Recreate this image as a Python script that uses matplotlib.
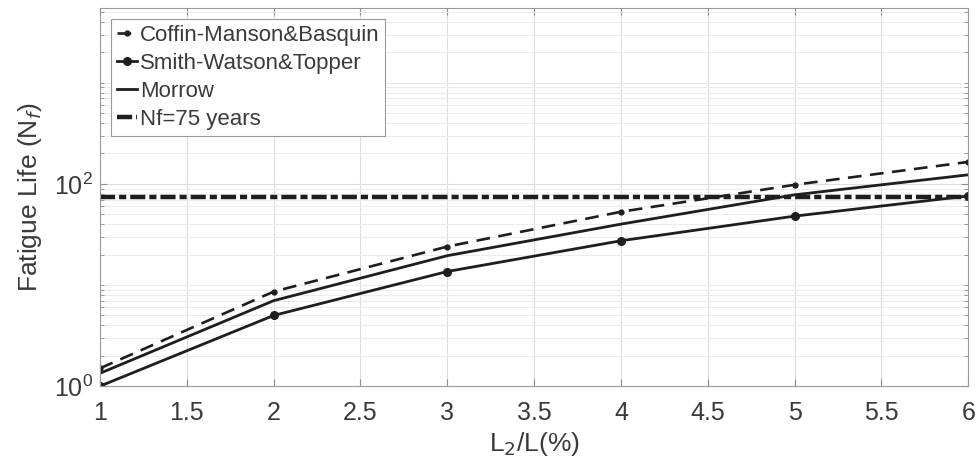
import numpy as np
import matplotlib.pyplot as plt
from matplotlib.ticker import LogLocator, NullFormatter

# data
ratio = [1, 2, 3, 4, 5, 6]                       # L2/L (%)
coffin_manson = [1.5, 8.6, 24, 53, 98, 165]
smith_watson = [1.0, 5.0, 13.6, 27.4, 48, 76]
morrow = [1.34, 7.0, 19.5, 40, 78, 123]
nf_limit = 75
xticks = [1, 1.5, 2, 2.5, 3, 3.5, 4, 4.5, 5, 5.5, 6]

plt.rcParams['font.family'] = ['Liberation Sans', 'DejaVu Sans']
text_color = '#3a3a3a'
line_color = '#1e1e1e'

fig = plt.figure(figsize=(9.76, 4.68), dpi=100)
ax = fig.add_axes([0.1025, 0.175, 0.8895, 0.808])

ax.plot(ratio, coffin_manson, color=line_color, lw=1.9, dashes=(5.2, 3.2),
        marker='o', ms=3.5, label='Coffin-Manson&Basquin')
ax.plot(ratio, smith_watson, color=line_color, lw=2.0,
        marker='o', ms=5.5, label='Smith-Watson&Topper')
ax.plot(ratio, morrow, color=line_color, lw=2.0, label='Morrow')
ax.axhline(nf_limit, color=line_color, lw=3.2, dashes=(3.4, 0.9, 1.6, 0.9),
           label='Nf=75 years')

ax.set_yscale('log')
ax.set_xlim(1, 6)
ax.set_ylim(1, 5500)
ax.set_xticks(xticks)
ax.set_xticklabels([f'{t:g}' for t in xticks])
ax.yaxis.set_major_locator(LogLocator(base=100))
ax.yaxis.set_minor_locator(LogLocator(base=10, subs=np.arange(1, 10)))
ax.yaxis.set_minor_formatter(NullFormatter())

# MATLAB-like grid and ticks
ax.grid(True, which='major', color='#dcdcdc', lw=0.8)
ax.grid(True, which='minor', axis='y', color='#ececec', lw=0.7)
ax.tick_params(which='both', direction='in', colors='#8c8c8c',
               labelcolor=text_color, labelsize=18, right=True, top=True)
ax.tick_params(which='major', length=5)
ax.tick_params(which='minor', length=3)
ax.tick_params(axis='x', pad=11)
ax.tick_params(axis='y', pad=5)
for s in ax.spines.values():
    s.set_color('#9a9a9a')
    s.set_linewidth(0.8)

ax.set_xlabel('L$_2$/L(%)', fontsize=19, color=text_color, labelpad=3)
ax.set_ylabel('Fatigue Life (N$_f$)', fontsize=19, color=text_color, labelpad=7)

leg = ax.legend(loc='upper left', fontsize=16, handlelength=0.9,
                handletextpad=0.15, borderpad=0.25, labelspacing=0.32,
                borderaxespad=0.5, fancybox=False, framealpha=1)
leg.get_frame().set_edgecolor('#9a9a9a')
leg.get_frame().set_linewidth(0.8)
for t in leg.get_texts():
    t.set_color(text_color)

fig.savefig('out.png', dpi=100, facecolor='white')
